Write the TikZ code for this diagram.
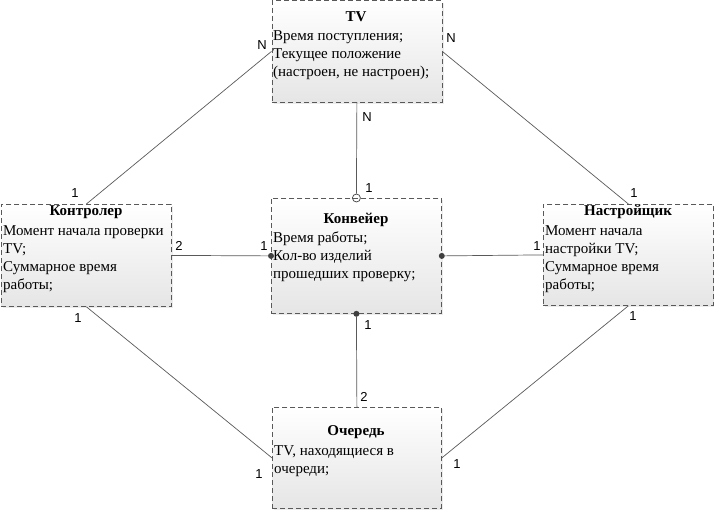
\documentclass[tikz,border=0pt]{standalone}
\usepackage{fontspec}
\setmainfont{Liberation Serif}
\newfontfamily\lblfont{Liberation Sans}
\usetikzlibrary{shadows}
\begin{document}
\begin{tikzpicture}[x=1pt,y=-1pt,
 box/.style={draw=black!65, dash pattern=on 5pt off 3pt, line width=0.8pt, top color=white, bottom color=black!10, anchor=north west, inner sep=0,
   drop shadow={shadow xshift=2pt, shadow yshift=-2pt, fill=black!12, opacity=0.6}},
 ttl/.style={font=\fontsize{15}{18}\selectfont\bfseries, inner sep=0},
 body/.style={font=\fontsize{15}{18}\selectfont, align=left, anchor=north west, inner sep=0},
 lbl/.style={font=\lblfont\fontsize{13}{15}\selectfont, inner sep=0},
 conn/.style={draw=black!65, line width=0.7pt},
 dot/.style={circle, fill=black!75, inner sep=0, minimum size=6pt},
 odot/.style={circle, draw=black!75, line width=0.7pt, inner sep=0, minimum size=8pt},
]
\useasboundingbox (0,0) rectangle (714,511);
% boxes
\node[box, minimum width=170pt, minimum height=101pt] (tv) at (271.5,0.5) {};
\node[box, minimum width=170pt, minimum height=102pt] (ctrl) at (1,204) {};
\node[box, minimum width=170pt, minimum height=115pt] (conv) at (271,198) {};
\node[box, minimum width=170pt, minimum height=101pt] (tune) at (543,204) {};
\node[box, minimum width=169pt, minimum height=101pt] (queue) at (272,407) {};
% titles
\node[ttl] (tvT) at (356,17) {TV};
\node[ttl] (ctrlT) at (86,212) {Контролер};
\node[ttl] (convT) at (356,220) {Конвейер};
\node[ttl] (tuneT) at (628,212) {Настройщик};
\node[ttl] (queueT) at (356,432) {Очередь};
% bodies
\node[body] (tvB) at (273,30) {Время поступления;\\Текущее положение\\(настроен, не настроен);};
\node[body] (ctrlB) at (3,225) {Момент начала проверки\\TV;\\Суммарное время\\работы;};
\node[body] (convB) at (273,232) {Время работы;\\Кол-во изделий\\прошедших проверку;};
\node[body] (tuneB) at (545,225) {Момент начала\\настройки TV;\\Суммарное время\\работы;};
\node[body] (queueB) at (274,445) {TV, находящиеся в\\очереди;};
% connectors
\draw[conn] (tv.west) -- (ctrl.north);
\draw[conn] (tv.east) -- (tune.north);
\node[odot] (o1) at (conv.north) {};
\draw[conn] (tv.south) -- (o1.north);
\node[dot] (d1) at (conv.west) {};
\node[dot] (d2) at (conv.east) {};
\node[dot] (d3) at (conv.south) {};
\draw[conn] (ctrl.east) -- (d1);
\draw[conn] (d2) -- (tune.west);
\draw[conn] (d3) -- (queue.north);
\draw[conn] (ctrl.south) -- (queue.west);
\draw[conn] (tune.south) -- (queue.east);
% labels
\node[lbl] (l1) at (262,45) {N};
\node[lbl] (l2) at (451,38) {N};
\node[lbl] (l3) at (75,193) {1};
\node[lbl] (l4) at (634,193) {1};
\node[lbl] (l5) at (367,117) {N};
\node[lbl] (l6) at (369,188) {1};
\node[lbl] (l7) at (179,246) {2};
\node[lbl] (l8) at (264,246) {1};
\node[lbl] (l9) at (537,246) {1};
\node[lbl] (l10) at (368,325) {1};
\node[lbl] (l11) at (364,397) {2};
\node[lbl] (l12) at (78,318) {1};
\node[lbl] (l13) at (259,474) {1};
\node[lbl] (l14) at (457,464) {1};
\node[lbl] (l15) at (633,316) {1};
\IfFontExistsTF{Liberation Serif}{}{\node[red, font=\Huge] (dbg) at (357,150) {MISSING};}
\end{tikzpicture}
\end{document}
